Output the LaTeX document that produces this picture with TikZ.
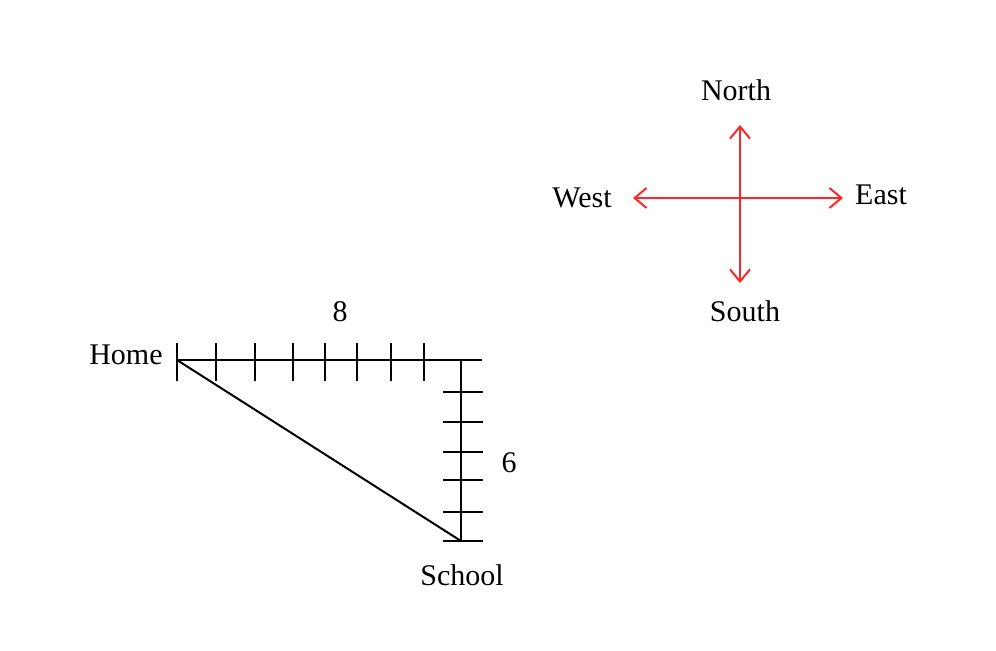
\documentclass[tikz,border=0pt]{standalone}
\usepackage{fontspec}
\setmainfont{Liberation Serif}
\usetikzlibrary{arrows.meta}
\tikzstyle{label} = [inner sep=0pt, font=\fontsize{15}{18}\selectfont]
\tikzstyle{road} = [line width=1pt, black]
\tikzstyle{tick} = [line width=1pt, black]
\tikzstyle{dir} = [line width=1pt, red!85!white, -{Straight Barb[length=6pt,width=10pt]}]

\begin{document}
\begin{tikzpicture}[x=0.5pt, y=-0.5pt]
\useasboundingbox (0,0) rectangle (996,650);

% map
\coordinate (home) at (177,360);
\coordinate (corner) at (461,360);
\coordinate (school) at (461,541);
\coordinate (end) at (482,360);

\node (homelbl) [label, anchor=east] at (163,355) {Home};
\node (schoollbl) [label] at (462,575) {School};
\node (eight) [label] at (340,312) {8};
\node (six) [label] at (509,463) {6};

\draw [road] (home) -- (end);
\draw [road] (corner) -- (school);
\draw [road] (home) -- (school);

\foreach \x in {177,216,255,293,325,357,391,424}
  \draw [tick] (\x,343) -- (\x,381);
\draw [tick] (461,360) -- (461,381);
\foreach \y in {392,422,452,480,512,541}
  \draw [tick] (443,\y) -- (483,\y);

% compass
\coordinate (c) at (740,198);
\coordinate (n) at (740,125);
\coordinate (s) at (740,283);
\coordinate (w) at (633,198);
\coordinate (e) at (843,198);

\node (north) [label] at (736,90) {North};
\node (south) [label] at (745,311) {South};
\node (west) [label] at (582,198) {West};
\node (east) [label] at (881,195) {East};

\draw [dir] (c) -- (n);
\draw [dir] (c) -- (s);
\draw [dir] (c) -- (w);
\draw [dir] (c) -- (e);

\end{tikzpicture}
\end{document}
